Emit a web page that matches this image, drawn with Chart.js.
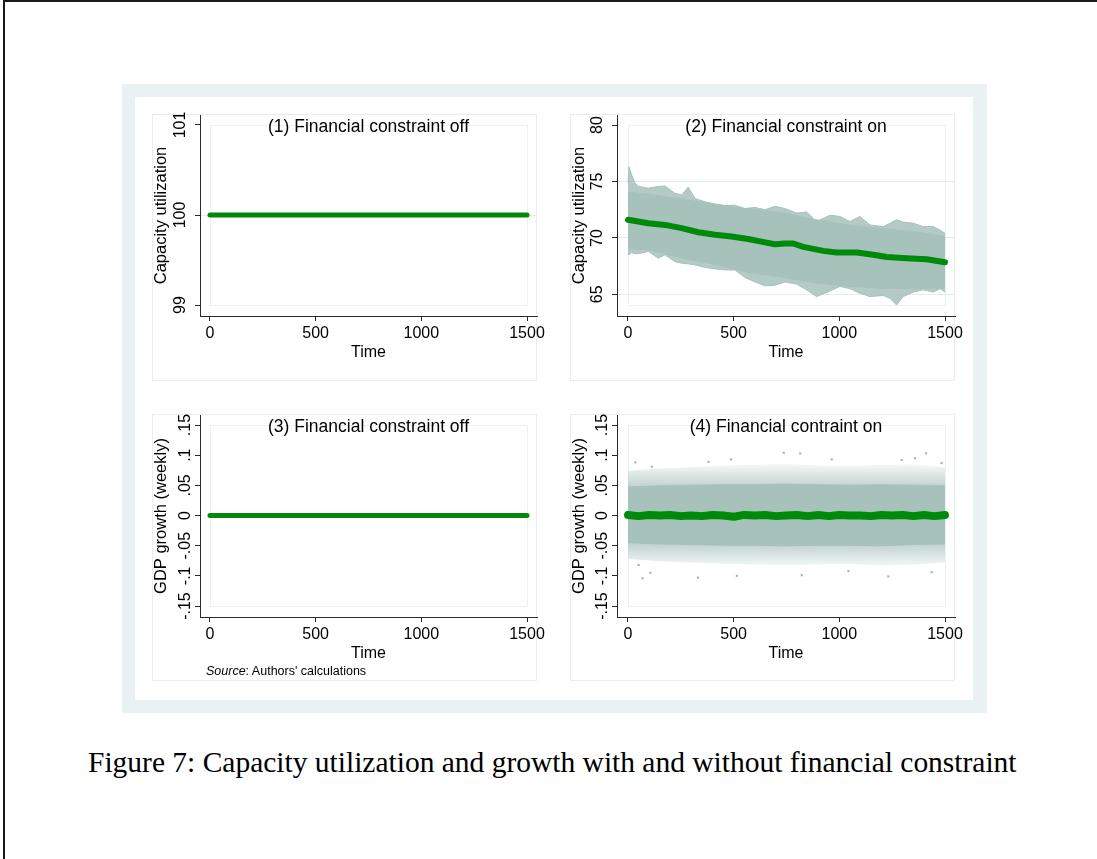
<!DOCTYPE html>
<html>
<head>
<meta charset="utf-8">
<script src="https://cdn.jsdelivr.net/npm/chart.js@4.4.1/dist/chart.umd.min.js"></script>
<style>
  body { margin: 0; width: 1097px; height: 859px; overflow: hidden; position: relative; background: #fff; }
  #edge { position: absolute; left: 3px; top: 0; width: 1200px; height: 1000px; border-left: 2px solid #1a1a1a; border-top: 2px solid #1a1a1a; }
  #frame { position: absolute; left: 122px; top: 84px; width: 865px; height: 629px; background: #eaf1f3; }
  #inner { position: absolute; left: 135px; top: 97px; width: 838px; height: 603px; background: #fff; }
  .box { position: absolute; width: 385px; height: 267px; border: 1px solid #e8eef0; box-sizing: border-box; }
  canvas { position: absolute; }
  #source { position: absolute; left: 206px; top: 665px; font: 12.5px/1 "Liberation Sans", Arial, sans-serif; color: #000; white-space: nowrap; }
  #caption { position: absolute; left: 88px; top: 751px; font-family: "Liberation Serif", "Times New Roman", serif; font-size: 25px; line-height: 1; color: #000; white-space: nowrap; }
</style>
</head>
<body>
<div id="edge"></div>
<div id="frame"></div>
<div id="inner"></div>
<div class="box" style="left:152px;top:114px"></div>
<div class="box" style="left:570px;top:114px"></div>
<div class="box" style="left:152px;top:414px"></div>
<div class="box" style="left:570px;top:414px"></div>
<canvas id="p1" width="410" height="290" style="left:140px;top:104px"></canvas>
<canvas id="p2" width="410" height="290" style="left:558px;top:104px"></canvas>
<canvas id="p3" width="410" height="290" style="left:140px;top:404px"></canvas>
<canvas id="p4" width="410" height="290" style="left:558px;top:404px"></canvas>
<div id="source"><i>Source</i>: Authors' calculations</div>
<div id="caption">Figure 7: Capacity utilization and growth with and without financial constraint</div>
<script>
const TIME_TICKS = [0, 500, 1000, 1500]
const CU_OFF_TICKS = [99, 100, 101]
const CU_ON_TICKS = [65, 70, 75, 80]
const GROWTH_TICKS = [-0.15, -0.1, -0.05, 0, 0.05, 0.1, 0.15]
const GROWTH_TICK_LABELS = ['-.15', '-.1', '-.05', '0', '.05', '.1', '.15']

// constraint off: every run identical
const FLAT_TIME = [0, 1500]
const CU_OFF = [100, 100]
const GROWTH_OFF = [0, 0]

// (2) capacity utilization, constraint on - mean of runs
const CU_MEAN_TIME = [0, 96, 175, 254, 333, 412, 490, 569, 648, 695, 743, 782, 829, 924, 987, 1082, 1161, 1224, 1318, 1413, 1500]
const CU_MEAN = [71.6, 71.3, 71.15, 70.86, 70.5, 70.27, 70.12, 69.9, 69.6, 69.44, 69.5, 69.5, 69.2, 68.85, 68.7, 68.7, 68.5, 68.3, 68.2, 68.1, 67.84]

// outermost runs
const CU_RUNS_TIME = [0, 5, 17, 33, 49, 96, 144, 175, 222, 254, 285, 317, 364, 412, 459, 506, 553, 601, 648, 695, 743, 798, 845, 892, 956, 1003, 1050, 1097, 1145, 1208, 1239, 1271, 1302, 1350, 1397, 1444, 1476, 1500]
const CU_RUNS_HIGH = [74.9, 76.3, 75.6, 74.85, 74.56, 74.4, 74.56, 74.6, 73.96, 73.8, 74.5, 73.5, 73.2, 73.0, 72.87, 72.9, 72.6, 72.7, 72.5, 72.8, 72.6, 72.2, 72.3, 71.45, 72.0, 71.9, 71.45, 71.9, 71.15, 71.0, 71.3, 71.6, 71.4, 71.3, 71.0, 71.0, 70.7, 70.4]
const CU_RUNS_LOW = [68.6, 68.5, 68.7, 68.6, 68.6, 68.8, 68.2, 68.5, 67.9, 67.75, 67.7, 67.6, 67.4, 67.25, 67.16, 67.16, 66.5, 66.1, 65.75, 65.8, 66.1, 65.9, 65.4, 64.8, 65.3, 65.7, 65.5, 65.1, 64.8, 64.9, 64.65, 64.05, 64.8, 65.2, 65.4, 65.2, 65.5, 65.2]

// where most runs lie
const CU_CORE_TIME = [0, 96, 254, 412, 570, 727, 877, 1034, 1192, 1350, 1500]
const CU_CORE_HIGH = [74.1, 73.9, 73.5, 73.0, 72.6, 72.3, 71.7, 71.2, 70.9, 70.6, 70.2]
const CU_CORE_LOW = [69.0, 68.9, 68.2, 67.6, 66.9, 66.5, 66.0, 65.7, 65.5, 65.5, 65.5]

// (4) weekly GDP growth, constraint on
const GROWTH_MEAN_TIME = [0, 50, 100, 150, 200, 250, 300, 350, 400, 450, 500, 550, 600, 650, 700, 750, 800, 850, 900, 950, 1000, 1050, 1100, 1150, 1200, 1250, 1300, 1350, 1400, 1450, 1500]
const GROWTH_MEAN = [0.001, -0.001, 0.001, 0.000, 0.001, -0.001, 0.000, -0.001, 0.001, 0.000, -0.002, 0.001, 0.000, 0.001, -0.001, 0.000, 0.001, -0.001, 0.001, -0.001, 0.001, 0.000, 0.000, -0.001, 0.001, 0.000, 0.001, -0.001, 0.001, -0.001, 0.001]

const GROWTH_BAND_TIME = [0, 150, 300, 450, 600, 750, 900, 1050, 1200, 1350, 1500]
const GROWTH_CORE_HIGH = [0.048, 0.050, 0.051, 0.052, 0.052, 0.053, 0.052, 0.051, 0.052, 0.051, 0.050]
const GROWTH_CORE_LOW = [-0.046, -0.048, -0.049, -0.050, -0.050, -0.051, -0.050, -0.050, -0.051, -0.049, -0.048]
const GROWTH_SPREAD_HIGH = [0.074, 0.078, 0.080, 0.083, 0.084, 0.086, 0.083, 0.082, 0.084, 0.085, 0.080]
const GROWTH_SPREAD_LOW = [-0.072, -0.076, -0.078, -0.080, -0.081, -0.082, -0.081, -0.080, -0.083, -0.081, -0.078]

const GROWTH_OUTLIER_TIME = [35, 50, 69, 106, 113, 331, 381, 487, 515, 737, 815, 822, 964, 1043, 1232, 1295, 1358, 1410, 1437, 1484]
const GROWTH_OUTLIER = [0.088, -0.082, -0.104, -0.095, 0.081, -0.103, 0.089, 0.093, -0.100, 0.104, 0.103, -0.099, 0.093, -0.092, -0.101, 0.092, 0.095, 0.103, -0.094, 0.087]

const GREEN = '#008a0a'
const RUN = '#a7c1bb'
const RUN_SOFT = 'rgba(167,193,187,0.85)'
const AXIS = '#2b2b2b'
const GRID = '#e4ecee'
const BOX = '#ecf2f4'
const FONT = '"Liberation Sans", Arial, Helvetica, sans-serif'

Chart.defaults.font.family = FONT
Chart.defaults.color = '#000'

const pts = (xs, ys) => xs.map((x, i) => ({ x, y: ys[i] }))

// stata plot region outline, drawn before grid and title
const plotBox = {
  id: 'plotBox',
  beforeDraw(chart, args, opts) {
    const { ctx, scales: { x, y } } = chart
    const l = Math.round(x.getPixelForValue(0)) + 0.5
    const r = Math.round(x.getPixelForValue(1500)) + 0.5
    const t = Math.round(y.getPixelForValue(opts.top)) + 0.5
    const b = Math.round(y.getPixelForValue(opts.bottom)) + 0.5
    ctx.save()
    ctx.strokeStyle = BOX
    ctx.lineWidth = 1
    ctx.strokeRect(l, t, r - l, b - t)
    ctx.restore()
  }
}

function spreadFill(ctx) {
  const chart = ctx.chart
  if (!chart.chartArea) return RUN_SOFT
  const y = chart.scales.y
  const g = chart.ctx.createLinearGradient(0, y.getPixelForValue(0.092), 0, y.getPixelForValue(-0.092))
  g.addColorStop(0, 'rgba(167,193,187,0)')
  g.addColorStop(0.24, 'rgba(167,193,187,0.7)')
  g.addColorStop(0.76, 'rgba(167,193,187,0.7)')
  g.addColorStop(1, 'rgba(167,193,187,0)')
  return g
}

function line(data, color, width, order, extra) {
  return Object.assign({
    data,
    borderColor: color,
    borderWidth: width,
    borderCapStyle: 'round',
    borderJoinStyle: 'round',
    pointRadius: 0,
    tension: 0,
    fill: false,
    order
  }, extra || {})
}

function makePanel(cfg) {
  return new Chart(document.getElementById(cfg.id), {
    type: 'line',
    data: { datasets: cfg.datasets },
    plugins: [plotBox],
    options: {
      responsive: false,
      animation: false,
      events: [],
      layout: { padding: { left: 10, right: 13, top: 11, bottom: cfg.padBottom } },
      plugins: {
        legend: { display: false },
        tooltip: { enabled: false },
        title: {
          display: true,
          text: cfg.title,
          fullSize: false,
          color: '#000',
          font: { size: 17.5, weight: 'normal' },
          padding: { top: 2, bottom: -23 }
        },
        plotBox: { top: cfg.box[0], bottom: cfg.box[1] }
      },
      scales: {
        x: {
          type: 'linear',
          min: cfg.xRange[0],
          max: cfg.xRange[1],
          afterFit: s => {
            s.height = 50
            s.paddingLeft = 0
            s.paddingRight = 0
          },
          afterBuildTicks: s => { s.ticks = TIME_TICKS.map(v => ({ value: v })) },
          grid: { drawOnChartArea: false, tickLength: 5, color: AXIS, tickColor: AXIS },
          border: { color: AXIS, width: 1 },
          ticks: { autoSkip: false, maxRotation: 0, padding: 3, font: { size: 16 }, color: '#000', callback: v => String(v) },
          title: { display: true, text: 'Time', color: '#000', font: { size: 16 }, padding: { top: 0, bottom: 4 } }
        },
        y: {
          type: 'linear',
          min: cfg.yRange[0],
          max: cfg.yRange[1],
          afterFit: s => {
            s.width = cfg.yWidth
            s.paddingTop = 0
            s.paddingBottom = 0
          },
          afterBuildTicks: s => { s.ticks = cfg.yTicks.map(v => ({ value: v })) },
          grid: {
            color: c => (cfg.yGrid && c.tick && c.tick.value !== cfg.box[0] && c.tick.value !== cfg.box[1]) ? GRID : 'rgba(0,0,0,0)',
            tickColor: AXIS,
            tickLength: 5
          },
          border: { color: AXIS, width: 1 },
          ticks: {
            autoSkip: false,
            minRotation: 90,
            maxRotation: 90,
            crossAlign: 'center',
            padding: cfg.yPad,
            font: { size: 16 },
            color: '#000',
            callback: (v, i) => cfg.yLabels[i]
          },
          title: { display: true, text: cfg.yTitle, color: '#000', font: { size: 16.5 }, padding: { top: 2, bottom: 0 } }
        }
      }
    }
  })
}

makePanel({
  id: 'p1',
  title: '(1) Financial constraint off',
  yTitle: 'Capacity utilization',
  xRange: [-47.3, 1547.3],
  yRange: [98.878, 101.111],
  box: [101, 99],
  yTicks: CU_OFF_TICKS,
  yLabels: CU_OFF_TICKS.map(String),
  yGrid: true,
  yWidth: 50,
  yPad: 0.7,
  padBottom: 28,
  datasets: [line(pts(FLAT_TIME, CU_OFF), GREEN, 5, 0)]
})

makePanel({
  id: 'p2',
  title: '(2) Financial constraint on',
  yTitle: 'Capacity utilization',
  xRange: [-52, 1547.3],
  yRange: [63.08, 80.886],
  box: [80, 64.04],
  yTicks: CU_ON_TICKS,
  yLabels: CU_ON_TICKS.map(String),
  yGrid: true,
  yWidth: 49,
  yPad: 5.1,
  padBottom: 28,
  datasets: [
    line(pts(CU_RUNS_TIME, CU_RUNS_HIGH), RUN, 1, 3, { fill: { target: 1 }, backgroundColor: RUN_SOFT }),
    line(pts(CU_RUNS_TIME, CU_RUNS_LOW), RUN, 1, 3),
    line(pts(CU_CORE_TIME, CU_CORE_HIGH), RUN, 0, 2, { fill: { target: 3 }, backgroundColor: RUN }),
    line(pts(CU_CORE_TIME, CU_CORE_LOW), RUN, 0, 2),
    line(pts(CU_MEAN_TIME, CU_MEAN), GREEN, 6, 0)
  ]
})

makePanel({
  id: 'p3',
  title: '(3) Financial constraint off',
  yTitle: 'GDP growth (weekly)',
  xRange: [-47.3, 1547.3],
  yRange: [-0.1682, 0.1666],
  box: [0.15, -0.15],
  yTicks: GROWTH_TICKS,
  yLabels: GROWTH_TICK_LABELS,
  yGrid: false,
  yWidth: 50,
  yPad: -4,
  padBottom: 27,
  datasets: [line(pts(FLAT_TIME, GROWTH_OFF), GREEN, 5, 0)]
})

makePanel({
  id: 'p4',
  title: '(4) Financial contraint on',
  yTitle: 'GDP growth (weekly)',
  xRange: [-52, 1547.3],
  yRange: [-0.1682, 0.1666],
  box: [0.15, -0.15],
  yTicks: GROWTH_TICKS,
  yLabels: GROWTH_TICK_LABELS,
  yGrid: false,
  yWidth: 49,
  yPad: -4,
  padBottom: 27,
  datasets: [
    line(pts(GROWTH_BAND_TIME, GROWTH_SPREAD_HIGH), RUN, 0, 4, { fill: { target: 1 }, backgroundColor: spreadFill }),
    line(pts(GROWTH_BAND_TIME, GROWTH_SPREAD_LOW), RUN, 0, 4),
    line(pts(GROWTH_BAND_TIME, GROWTH_CORE_HIGH), RUN, 0, 2, { fill: { target: 3 }, backgroundColor: RUN }),
    line(pts(GROWTH_BAND_TIME, GROWTH_CORE_LOW), RUN, 0, 2),
    line(pts(GROWTH_OUTLIER_TIME, GROWTH_OUTLIER), RUN, 0, 3, { showLine: false, pointRadius: 1.5, pointStyle: 'rect', pointBackgroundColor: '#9db8b2', pointBorderWidth: 0 }),
    line(pts(GROWTH_MEAN_TIME, GROWTH_MEAN), GREEN, 8, 0)
  ]
})

// fit caption to the printed width
const cap = document.getElementById('caption')
const capW = cap.getBoundingClientRect().width
const capSize = 25 * 929 / capW
cap.style.fontSize = capSize + 'px'
cap.style.top = (773 - 0.8375 * capSize) + 'px'
</script>
</body>
</html>
